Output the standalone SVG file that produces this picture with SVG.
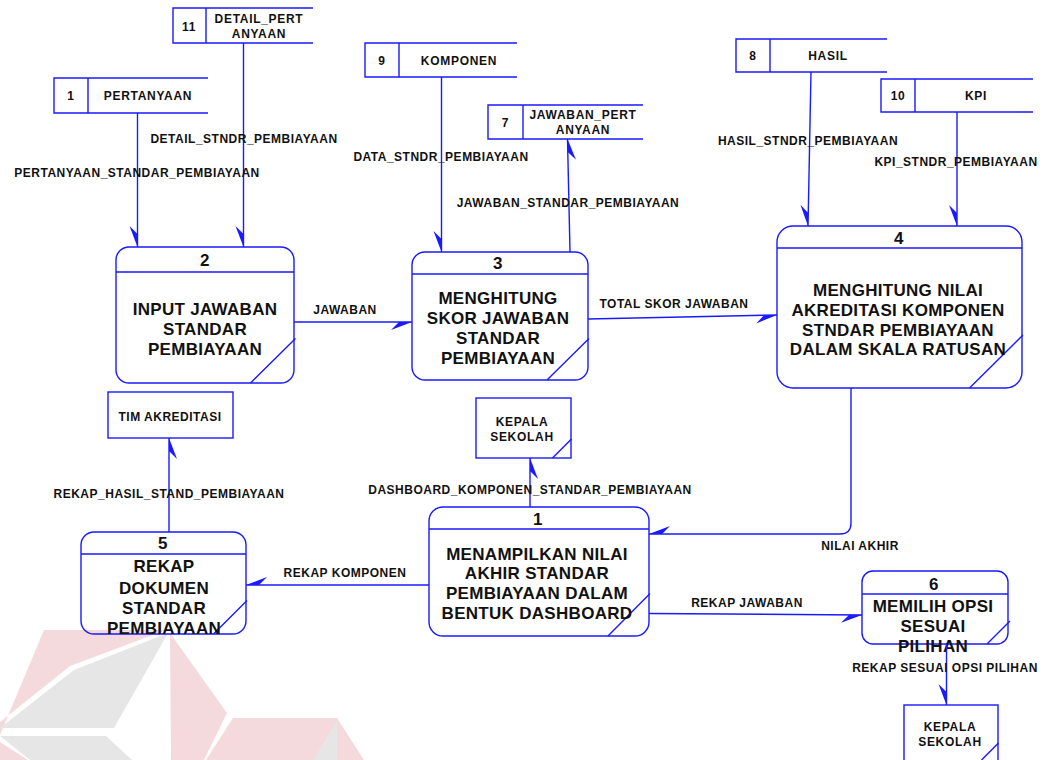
<svg xmlns="http://www.w3.org/2000/svg" width="1043" height="760" viewBox="0 0 1043 760">
  <defs>
    <style>
      .ln { fill: none; stroke: #1a1aff; stroke-width: 1.4; }
      .box { fill: none; stroke: #1a1aff; stroke-width: 1.4; }
      .lbl { font-family: "Liberation Sans", Arial, sans-serif; font-weight: bold; font-size: 12px; letter-spacing: 0.5px; text-anchor: middle; fill: #111; }
      .st { font-family: "Liberation Sans", Arial, sans-serif; font-weight: bold; font-size: 12px; letter-spacing: 0.7px; text-anchor: middle; fill: #111; }
      .ptx { font-family: "Liberation Sans", Arial, sans-serif; font-weight: bold; font-size: 17px; letter-spacing: 0.3px; text-anchor: middle; fill: #111; }
      .pk { fill: #f4dadd; }
      .gr { fill: #e6e6e6; }
    </style>
    <marker id="ah" markerUnits="userSpaceOnUse" markerWidth="30" markerHeight="30" refX="0" refY="0" orient="auto" style="overflow:visible">
      <path d="M0,0 L-21,8 L-13,0 Z" fill="#1a1aff"/>
    </marker>
  </defs>

  <rect width="1043" height="760" fill="#ffffff"/>

  <!-- faint logo watermark, bottom left -->
  <g id="watermark">
    <polygon class="pk" points="44,630 166,630 70,666 0,722 0,735"/>
    <polygon class="gr" points="168,633 74,670 0,728 114,728"/>
    <polygon class="pk" points="170,633 227,713 204,760 171,760"/>
    <polygon class="pk" points="233,718 337,718 364,760 206,760"/>
    <polygon class="gr" points="337,721 313,760 337,760"/>
    <polygon class="gr" points="0,736 106,736 132,760 30,760"/>
    <polygon class="pk" points="0,742 28,760 0,760"/>
  </g>

  <!-- data stores -->
  <g id="store-11">
    <path class="box" d="M313,8 H173 V43 H313 M206,8 V43"/>
    <text class="st" x="189" y="31">11</text>
    <text class="st" x="259" y="22.5">DETAIL_PERT</text>
    <text class="st" x="259" y="38">ANYAAN</text>
  </g>
  <g id="store-1">
    <path class="box" d="M208,78 H54 V113 H208 M88,78 V113"/>
    <text class="st" x="71" y="100">1</text>
    <text class="st" x="148" y="100">PERTANYAAN</text>
  </g>
  <g id="store-9">
    <path class="box" d="M517,43 H365 V77 H517 M399,43 V77"/>
    <text class="st" x="382" y="65">9</text>
    <text class="st" x="459" y="65">KOMPONEN</text>
  </g>
  <g id="store-7">
    <path class="box" d="M643,105 H488 V139 H643 M523,105 V139"/>
    <text class="st" x="505.5" y="127">7</text>
    <text class="st" x="583" y="119">JAWABAN_PERT</text>
    <text class="st" x="583" y="133.5">ANYAAN</text>
  </g>
  <g id="store-8">
    <path class="box" d="M887,39 H736 V72 H887 M770,39 V72"/>
    <text class="st" x="753" y="60">8</text>
    <text class="st" x="828" y="60">HASIL</text>
  </g>
  <g id="store-10">
    <path class="box" d="M1033,79 H881 V112 H1033 M915,79 V112"/>
    <text class="st" x="898" y="100">10</text>
    <text class="st" x="976" y="100">KPI</text>
  </g>

  <!-- processes -->
  <g id="proc-2">
    <rect class="box" x="116" y="247" width="178" height="136" rx="13"/>
    <path class="ln" d="M116,272 H294 M295.5,338.5 L250.5,383"/>
    <text class="ptx" x="205" y="266">2</text>
    <text class="ptx" x="205" y="314.5">INPUT JAWABAN</text>
    <text class="ptx" x="205" y="334.5">STANDAR</text>
    <text class="ptx" x="205" y="354.5">PEMBIAYAAN</text>
  </g>
  <g id="proc-3">
    <rect class="box" x="412" y="252" width="176" height="128" rx="13"/>
    <path class="ln" d="M412,274 H588 M589,338.5 L547,380"/>
    <text class="ptx" x="498" y="268.5">3</text>
    <text class="ptx" x="498" y="303.5">MENGHITUNG</text>
    <text class="ptx" x="498" y="323.5">SKOR JAWABAN</text>
    <text class="ptx" x="498" y="343.5">STANDAR</text>
    <text class="ptx" x="498" y="363.5">PEMBIAYAAN</text>
  </g>
  <g id="proc-4">
    <rect class="box" x="777" y="226" width="245" height="162" rx="16"/>
    <path class="ln" d="M777,248 H1022 M1023,335 L969.5,388"/>
    <text class="ptx" x="899" y="243.5">4</text>
    <text class="ptx" x="898" y="296">MENGHITUNG NILAI</text>
    <text class="ptx" x="898" y="316">AKREDITASI KOMPONEN</text>
    <text class="ptx" x="898" y="335.5">STNDAR PEMBIAYAAN</text>
    <text class="ptx" x="898" y="354.5">DALAM SKALA RATUSAN</text>
  </g>
  <g id="proc-1">
    <rect class="box" x="429" y="507" width="220" height="129" rx="14"/>
    <path class="ln" d="M429,529 H649 M650,593.5 L608,636"/>
    <text class="ptx" x="538" y="524.5">1</text>
    <text class="ptx" x="537" y="559.5">MENAMPILKAN NILAI</text>
    <text class="ptx" x="537" y="579">AKHIR STANDAR</text>
    <text class="ptx" x="537" y="598.5">PEMBIAYAAN DALAM</text>
    <text class="ptx" x="537" y="618.5">BENTUK DASHBOARD</text>
  </g>
  <g id="proc-5">
    <rect class="box" x="81" y="532" width="165" height="102" rx="13"/>
    <path class="ln" d="M81,554 H246 M247,600.5 L213.5,634"/>
    <text class="ptx" x="163" y="549">5</text>
    <text class="ptx" x="164" y="572">REKAP</text>
    <text class="ptx" x="164" y="593.5">DOKUMEN</text>
    <text class="ptx" x="164" y="613.5">STANDAR</text>
    <text class="ptx" x="164" y="633.5">PEMBIAYAAN</text>
  </g>
  <g id="proc-6">
    <rect class="box" x="862" y="571" width="146" height="73" rx="11"/>
    <path class="ln" d="M862,594 H1008 M1010,621 L987,644"/>
    <text class="ptx" x="934" y="589.5">6</text>
    <text class="ptx" x="933" y="612">MEMILIH OPSI</text>
    <text class="ptx" x="933" y="632">SESUAI</text>
    <text class="ptx" x="933" y="652">PILIHAN</text>
  </g>

  <!-- external entities -->
  <g id="ent-tim-akreditasi">
    <rect class="box" x="108" y="392" width="125" height="46"/>
    <text class="st" x="170" y="421" style="letter-spacing:0.5px">TIM AKREDITASI</text>
  </g>
  <g id="ent-kepala-sekolah-1">
    <rect class="box" x="476" y="398" width="95" height="60"/>
    <path class="ln" d="M571.5,439 L552.5,458"/>
    <text class="st" x="522" y="426">KEPALA</text>
    <text class="st" x="522" y="441">SEKOLAH</text>
  </g>
  <g id="ent-kepala-sekolah-2">
    <rect class="box" x="904" y="705" width="94" height="60"/>
    <path class="ln" d="M998.5,743 L981.5,760"/>
    <text class="st" x="950" y="730.5">KEPALA</text>
    <text class="st" x="950" y="746">SEKOLAH</text>
  </g>

  <!-- data flows -->
  <g id="connectors">
    <path class="ln" d="M137.5,113 V247" marker-end="url(#ah)"/>
    <path class="ln" d="M243.5,43 V247" marker-end="url(#ah)"/>
    <path class="ln" d="M441.5,77 V252" marker-end="url(#ah)"/>
    <path class="ln" d="M570,252 L567.5,139" marker-end="url(#ah)"/>
    <path class="ln" d="M811,72 L808,226" marker-end="url(#ah)"/>
    <path class="ln" d="M957,112 V226" marker-end="url(#ah)"/>
    <path class="ln" d="M294,322 H412" marker-end="url(#ah)"/>
    <path class="ln" d="M588,319 L777,315" marker-end="url(#ah)"/>
    <path class="ln" d="M851,388 V523 Q851,534 840,534 H649" marker-end="url(#ah)"/>
    <path class="ln" d="M530,507 V458" marker-end="url(#ah)"/>
    <path class="ln" d="M429,585 H246" marker-end="url(#ah)"/>
    <path class="ln" d="M169,532 V438" marker-end="url(#ah)"/>
    <path class="ln" d="M649,613.5 L862,615" marker-end="url(#ah)"/>
    <path class="ln" d="M946.5,644 L946.5,705" marker-end="url(#ah)"/>

    <text class="lbl" x="137" y="177">PERTANYAAN_STANDAR_PEMBIAYAAN</text>
    <text class="lbl" x="244" y="143">DETAIL_STNDR_PEMBIAYAAN</text>
    <text class="lbl" x="441" y="161">DATA_STNDR_PEMBIAYAAN</text>
    <text class="lbl" x="568" y="206.5">JAWABAN_STANDAR_PEMBIAYAAN</text>
    <text class="lbl" x="808" y="145">HASIL_STNDR_PEMBIAYAAN</text>
    <text class="lbl" x="956" y="165.5">KPI_STNDR_PEMBIAYAAN</text>
    <text class="lbl" x="345" y="314">JAWABAN</text>
    <text class="lbl" x="674" y="307.5">TOTAL SKOR JAWABAN</text>
    <text class="lbl" x="860" y="550">NILAI AKHIR</text>
    <text class="lbl" x="530" y="494">DASHBOARD_KOMPONEN_STANDAR_PEMBIAYAAN</text>
    <text class="lbl" x="169" y="497.5">REKAP_HASIL_STAND_PEMBIAYAAN</text>
    <text class="lbl" x="345" y="577">REKAP KOMPONEN</text>
    <text class="lbl" x="747" y="607">REKAP JAWABAN</text>
    <text class="lbl" x="945" y="672">REKAP SESUAI OPSI PILIHAN</text>
  </g>
</svg>
